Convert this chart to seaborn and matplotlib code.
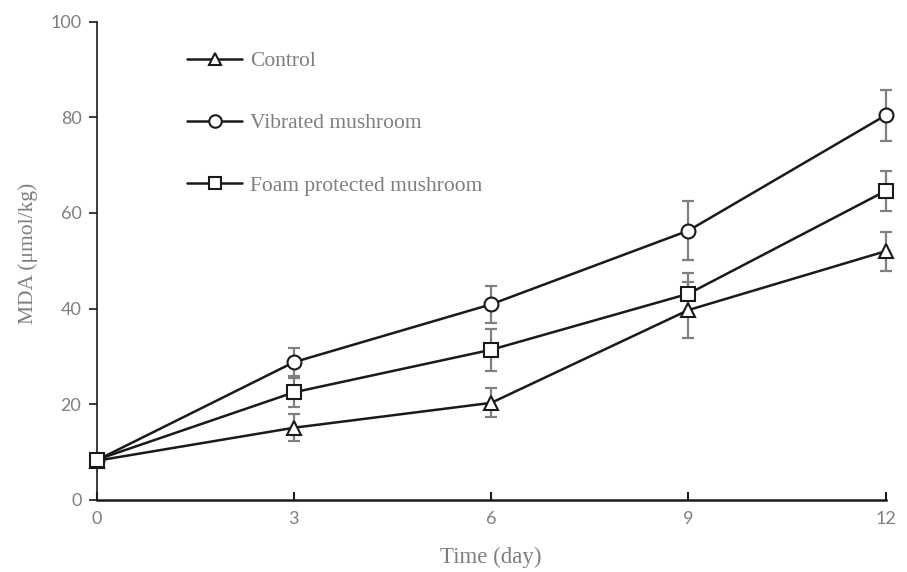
import matplotlib
matplotlib.use("Agg")
import matplotlib.pyplot as plt
from matplotlib.lines import Line2D
import seaborn as sns
import pandas as pd

days = [0, 3, 6, 9, 12]
series_names = ["Control", "Vibrated mushroom", "Foam protected mushroom"]
control = [8.2, 15.1, 20.3, 39.7, 52.0]
control_err = [1.0, 2.8, 3.0, 5.9, 4.1]
vibrated = [8.3, 28.8, 40.9, 56.3, 80.4]
vibrated_err = [1.0, 2.9, 3.9, 6.2, 5.3]
foam = [8.4, 22.5, 31.4, 43.1, 64.6]
foam_err = [1.0, 3.0, 4.4, 4.4, 4.2]
x_ticks = [0, 3, 6, 9, 12]
y_ticks = [0, 20, 40, 60, 80, 100]

values = [control, vibrated, foam]
errors = [control_err, vibrated_err, foam_err]
markers = {"Control": "^", "Vibrated mushroom": "o", "Foam protected mushroom": "s"}

df = pd.DataFrame({
    "Time": days * 3,
    "MDA": control + vibrated + foam,
    "Series": [n for n in series_names for _ in days],
})

sns.set_style("white")
plt.rcParams["font.family"] = ["Lato", "DejaVu Sans"]

fig = plt.figure(figsize=(9.07, 5.72), dpi=100)
ax = fig.add_axes([0.1066, 0.1259, 0.8699, 0.8365])

grey_text = "#7f7f7f"
err_col = "#808080"
line_col = "#1a1a1a"

for name, v, e in zip(series_names, values, errors):
    ax.errorbar(days, v, yerr=e, fmt="none", ecolor=err_col, elinewidth=1.6,
                capsize=4, capthick=1.6, zorder=1, clip_on=False)

sns.lineplot(data=df, x="Time", y="MDA", hue="Series", style="Series",
             palette=[line_col] * 3, markers=markers, dashes=False,
             linewidth=1.8, markersize=10, markerfacecolor="white",
             markeredgecolor=line_col, markeredgewidth=1.5,
             legend=False, ax=ax, zorder=3, clip_on=False)

ax.set_xlim(0, 12)
ax.set_ylim(0, 100)
ax.set_xticks(x_ticks)
ax.set_yticks(y_ticks)
for sp in ["top", "right"]:
    ax.spines[sp].set_visible(False)
ax.spines["left"].set_color(line_col)
ax.spines["left"].set_linewidth(1.2)
ax.spines["bottom"].set_color(line_col)
ax.spines["bottom"].set_linewidth(1.8)
ax.spines["left"].set_zorder(0.5)
ax.tick_params(axis="y", direction="out", length=6, width=1.2, color=line_col,
               labelsize=13, labelcolor=grey_text, pad=5, left=True)
ax.tick_params(axis="x", direction="in", length=6, width=1.5, color=line_col,
               labelsize=13, labelcolor=grey_text, pad=8, bottom=True)

serif = ["Liberation Serif", "DejaVu Serif"]
ax.set_xlabel("Time (day)", family=serif, fontsize=16.5, color=grey_text)
ax.set_ylabel("MDA (μmol/kg)", family=serif, fontsize=15.5, color=grey_text)
ax.xaxis.set_label_coords(0.5, -0.098)
ax.xaxis.label.set_va("top")
ax.yaxis.set_label_coords(-0.0744, 0.516)

handles = [Line2D([0], [0], color=line_col, lw=1.8, marker=markers[n], markersize=9,
                  markerfacecolor="white", markeredgecolor=line_col, markeredgewidth=1.5)
           for n in series_names]
leg = ax.legend(handles, series_names, loc="upper left", bbox_to_anchor=(0.1036, 0.9563),
                borderaxespad=0, frameon=False, handlelength=2.56, labelspacing=1.96,
                handletextpad=0.37, prop={"family": serif, "size": 15.5})
for t in leg.get_texts():
    t.set_color(grey_text)

ax.set_facecolor("white")
fig.savefig("out.png", dpi=100, facecolor="white")
